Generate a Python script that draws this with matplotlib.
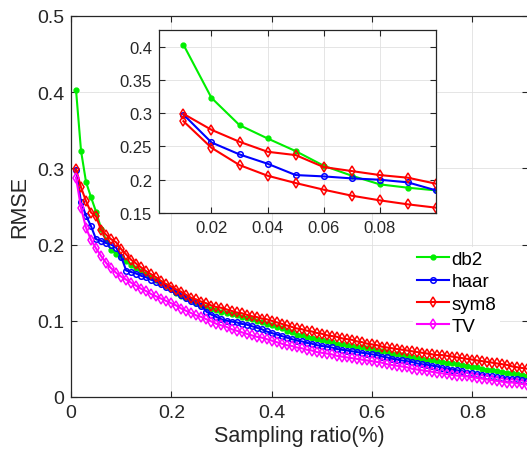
import matplotlib
matplotlib.use("Agg")
import matplotlib.pyplot as plt
import numpy as np

plt.rcParams['font.family'] = ['Liberation Sans', 'DejaVu Sans']

# Sampling ratio 0.01 ... 1.00
ratio = [round(0.01 * (i + 1), 2) for i in range(100)]

db2 = [0.403, 0.323, 0.282, 0.262, 0.243, 0.221, 0.206, 0.193, 0.188, 0.184,
       0.178, 0.173, 0.169, 0.165, 0.161, 0.157, 0.153, 0.149, 0.146, 0.142,
       0.137, 0.133, 0.130, 0.127, 0.124, 0.121, 0.118, 0.116, 0.114, 0.112,
       0.110, 0.109, 0.107, 0.105, 0.104, 0.102, 0.100, 0.098, 0.096, 0.094,
       0.092, 0.090, 0.087, 0.085, 0.082, 0.081, 0.079, 0.078, 0.076, 0.075,
       0.073, 0.072, 0.070, 0.069, 0.068, 0.067, 0.066, 0.065, 0.064, 0.063,
       0.061, 0.060, 0.059, 0.057, 0.056, 0.055, 0.054, 0.052, 0.051, 0.050,
       0.049, 0.048, 0.047, 0.046, 0.045, 0.044, 0.043, 0.042, 0.041, 0.040,
       0.039, 0.037, 0.036, 0.035, 0.034, 0.033, 0.032, 0.031, 0.030, 0.029,
       0.028, 0.027, 0.026, 0.025, 0.024, 0.023, 0.022, 0.022, 0.021, 0.020]

haar = [0.298, 0.256, 0.238, 0.224, 0.207, 0.205, 0.202, 0.200, 0.196, 0.184,
        0.166, 0.164, 0.162, 0.159, 0.157, 0.154, 0.151, 0.148, 0.145, 0.142,
        0.138, 0.134, 0.130, 0.126, 0.123, 0.120, 0.112, 0.108, 0.105, 0.102,
        0.100, 0.099, 0.098, 0.096, 0.095, 0.093, 0.091, 0.089, 0.086, 0.084,
        0.082, 0.080, 0.078, 0.076, 0.074, 0.073, 0.071, 0.070, 0.068, 0.067,
        0.066, 0.065, 0.063, 0.062, 0.061, 0.060, 0.059, 0.058, 0.057, 0.056,
        0.055, 0.053, 0.052, 0.050, 0.049, 0.048, 0.047, 0.046, 0.044, 0.043,
        0.042, 0.041, 0.040, 0.038, 0.037, 0.036, 0.035, 0.034, 0.032, 0.031,
        0.030, 0.029, 0.028, 0.027, 0.026, 0.025, 0.024, 0.024, 0.023, 0.022,
        0.021, 0.020, 0.019, 0.018, 0.017, 0.016, 0.015, 0.015, 0.014, 0.013]

sym8 = [0.299, 0.275, 0.257, 0.242, 0.237, 0.219, 0.213, 0.207, 0.203, 0.194,
        0.187, 0.180, 0.175, 0.170, 0.165, 0.161, 0.157, 0.152, 0.148, 0.145,
        0.141, 0.138, 0.134, 0.130, 0.128, 0.125, 0.123, 0.120, 0.118, 0.117,
        0.115, 0.113, 0.111, 0.110, 0.108, 0.106, 0.105, 0.103, 0.102, 0.100,
        0.098, 0.096, 0.094, 0.092, 0.090, 0.089, 0.087, 0.086, 0.084, 0.083,
        0.081, 0.080, 0.079, 0.077, 0.076, 0.075, 0.073, 0.072, 0.070, 0.069,
        0.068, 0.066, 0.065, 0.064, 0.063, 0.062, 0.061, 0.060, 0.059, 0.058,
        0.057, 0.056, 0.055, 0.055, 0.054, 0.053, 0.052, 0.051, 0.050, 0.049,
        0.048, 0.047, 0.046, 0.045, 0.044, 0.043, 0.042, 0.040, 0.039, 0.038,
        0.037, 0.036, 0.035, 0.034, 0.033, 0.032, 0.031, 0.030, 0.029, 0.028]

tv = [0.288, 0.248, 0.222, 0.206, 0.195, 0.185, 0.176, 0.169, 0.163, 0.158,
      0.154, 0.150, 0.146, 0.142, 0.139, 0.135, 0.132, 0.129, 0.126, 0.123,
      0.120, 0.116, 0.113, 0.110, 0.107, 0.105, 0.102, 0.099, 0.096, 0.094,
      0.092, 0.089, 0.087, 0.085, 0.083, 0.081, 0.079, 0.078, 0.076, 0.074,
      0.072, 0.070, 0.068, 0.067, 0.065, 0.064, 0.062, 0.061, 0.059, 0.058,
      0.057, 0.056, 0.054, 0.053, 0.052, 0.051, 0.050, 0.049, 0.048, 0.047,
      0.046, 0.045, 0.043, 0.042, 0.041, 0.040, 0.039, 0.037, 0.036, 0.035,
      0.034, 0.033, 0.032, 0.031, 0.030, 0.029, 0.028, 0.028, 0.027, 0.026,
      0.025, 0.024, 0.023, 0.022, 0.021, 0.020, 0.019, 0.019, 0.018, 0.017,
      0.016, 0.015, 0.015, 0.014, 0.013, 0.012, 0.012, 0.011, 0.011, 0.010]

labels = ['db2', 'haar', 'sym8', 'TV']
main_xticks = [0, 0.2, 0.4, 0.6, 0.8]
main_xticklabels = ['0', '0.2', '0.4', '0.6', '0.8']
main_yticks = [0, 0.1, 0.2, 0.3, 0.4, 0.5]
main_yticklabels = ['0', '0.1', '0.2', '0.3', '0.4', '0.5']
inset_xticks = [0.02, 0.04, 0.06, 0.08]
inset_xticklabels = ['0.02', '0.04', '0.06', '0.08']
inset_yticks = [0.15, 0.2, 0.25, 0.3, 0.35, 0.4]
inset_yticklabels = ['0.15', '0.2', '0.25', '0.3', '0.35', '0.4']
n_inset = 10

dark = '#262626'
grid_c = '#e0e0e0'

W, H = 527, 456
fig = plt.figure(figsize=(W / 100, H / 100), dpi=100)

def px_axes(l, t, r, b):
    return [l / W, 1 - b / H, (r - l) / W, (b - t) / H]

def style_ax(a, fs):
    for s in a.spines.values():
        s.set_color(dark)
        s.set_linewidth(0.9)
    a.tick_params(direction='in', top=True, right=True, length=4.5, width=0.8,
                  colors=dark, labelsize=fs, pad=5)
    a.grid(True, color=grid_c, linewidth=0.6)
    a.set_axisbelow(True)

styles = [
    dict(color='#00ee00', marker='.', markersize=7),
    dict(color='#0000ff', marker='o', markersize=4, markerfacecolor='none', markeredgewidth=1.1),
    dict(color='#ff0000', marker='d', markersize=5, markerfacecolor='none', markeredgewidth=1.1),
    dict(color='#ff00ff', marker='d', markersize=5, markerfacecolor='none', markeredgewidth=1.1),
]

ax = fig.add_axes(px_axes(71, 17, 528, 398))
series = [db2, haar, sym8, tv]
for ys, lab, st in zip(series, labels, styles):
    ax.plot(ratio, ys, linewidth=1.5, label=lab, **st)
ax.set_xlim(0, 0.911)
ax.set_ylim(0, 0.5)
ax.set_xticks(main_xticks)
ax.set_xticklabels(main_xticklabels)
ax.set_yticks(main_yticks)
ax.set_yticklabels(main_yticklabels)
style_ax(ax, 14)
ax.set_xlabel('Sampling ratio(%)', fontsize=15.5, color=dark, labelpad=3)
ax.set_ylabel('RMSE', fontsize=15.5, color=dark, labelpad=5)

leg = ax.legend(loc='upper left', bbox_to_anchor=(413 / W, 1 - 248 / H),
                bbox_transform=fig.transFigure, fontsize=13.5, frameon=True,
                handlelength=1.7, handletextpad=0.15, labelspacing=0.28,
                borderpad=0.2, borderaxespad=0, fancybox=False)
leg.get_frame().set_edgecolor('none')
leg.get_frame().set_facecolor('white')
leg.get_frame().set_alpha(1)

# inset
axi = fig.add_axes(px_axes(159, 31, 436, 214))
inset_styles = [styles[0], styles[1], styles[2],
                dict(styles[3], color='#ff0000')]
for ys, st in zip(series, inset_styles):
    axi.plot(ratio[:n_inset], ys[:n_inset], linewidth=1.5, **st)
axi.set_xlim(0.0013, 0.1)
axi.set_ylim(0.15, 0.425)
axi.set_xticks(inset_xticks)
axi.set_xticklabels(inset_xticklabels)
axi.set_yticks(inset_yticks)
axi.set_yticklabels(inset_yticklabels)
style_ax(axi, 12)
axi.set_facecolor('white')

fig.savefig('out.png', dpi=100)
